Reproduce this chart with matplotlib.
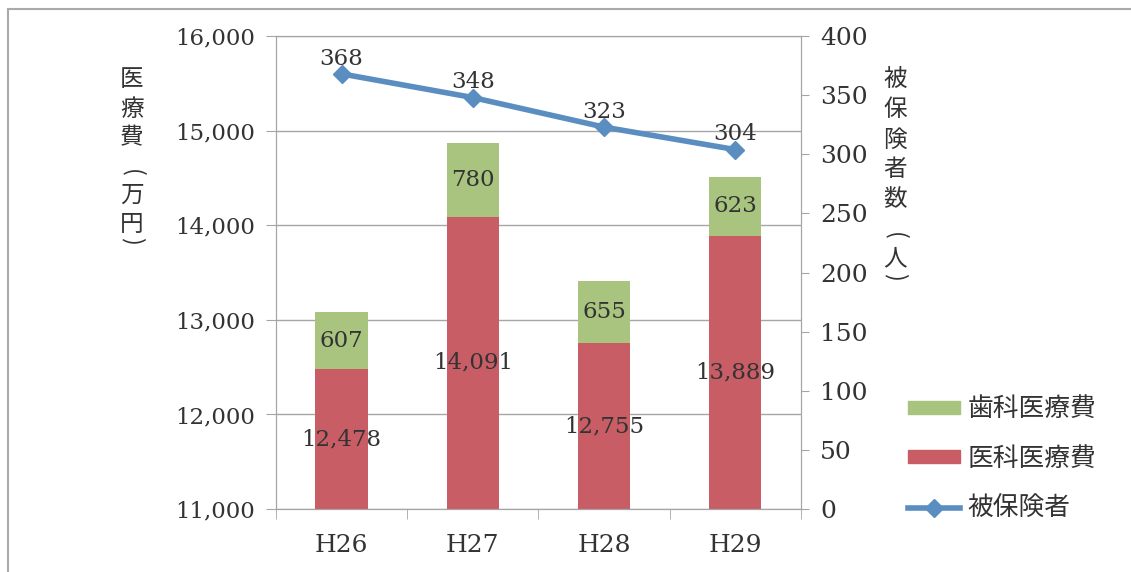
import numpy as np
import matplotlib.pyplot as plt
from matplotlib.lines import Line2D
from matplotlib.patches import Patch

years = ["H26", "H27", "H28", "H29"]
ika = [12478, 14091, 12755, 13889]      # 医科医療費
shika = [607, 780, 655, 623]            # 歯科医療費
hihokensha = [368, 348, 323, 304]       # 被保険者

GREEN = "#A9C47E"
RED = "#C95D66"
BLUE = "#5A8DC0"
TXT = "#333333"
SERIF = ["DejaVu Serif"]
JP = ["Noto Sans CJK JP", "DejaVu Sans"]


def vertical_label(fig, x_px, y_px, text, step=29):
    # 縦書き: 一文字ずつ配置、括弧は回転させる
    W = fig.get_figwidth() * fig.dpi
    H = fig.get_figheight() * fig.dpi
    prev = None
    for ch in text:
        if prev is not None:
            if ch == "(":
                y_px += step + 6
            elif prev == "(":
                y_px += step - 7
            elif ch == ")":
                y_px += step - 12
            else:
                y_px += step
        rot = -90 if ch in "()" else 0
        fig.text(x_px / W, 1 - y_px / H, ch, ha="center", va="center", rotation=rot,
                 fontsize=17, family=JP, color=TXT)
        prev = ch


fig = plt.figure(figsize=(11.31, 5.72), dpi=100)
ax = fig.add_axes([0.244, 0.110, 0.464, 0.827])

x = np.arange(len(years))
ax.bar(x, np.array(ika) - 11000, 0.4, bottom=11000, color=RED, zorder=2)
ax.bar(x, shika, 0.4, bottom=ika, color=GREEN, zorder=2)

for i in range(len(years)):
    ax.text(x[i], (11000 + ika[i]) / 2, f"{ika[i]:,}", ha="center", va="center",
            fontsize=16.5, family=SERIF, color=TXT, zorder=4)
    ax.text(x[i], ika[i] + shika[i] / 2, f"{shika[i]}", ha="center", va="center",
            fontsize=16.5, family=SERIF, color=TXT, zorder=4)

ax.set_xlim(-0.5, len(years) - 0.5)
ax.set_ylim(11000, 16000)
ax.set_yticks(np.arange(11000, 16001, 1000))
ax.set_yticklabels([f"{v:,}" for v in range(11000, 16001, 1000)], family=SERIF, fontsize=16.5, color=TXT)
ax.yaxis.grid(True, color="#a5a5a5", lw=1)
ax.set_axisbelow(True)
ax.set_xticks(x)
ax.set_xticklabels(years, family=SERIF, fontsize=18, color=TXT)
ax.set_xticks(np.arange(-0.5, len(years), 1), minor=True)
ax.tick_params(axis="x", which="major", length=0, pad=18)
ax.tick_params(axis="x", which="minor", length=7, color="#a5a5a5")
ax.tick_params(axis="y", length=7, color="#a5a5a5", pad=8)
for s in ax.spines.values():
    s.set_color("#a5a5a5")

ax2 = ax.twinx()
ax2.plot(x, hihokensha, color=BLUE, lw=4, marker="D", ms=9, zorder=5)
for i, v in enumerate(hihokensha):
    ax2.text(x[i], v + 13, str(v), ha="center", va="center", fontsize=16.5,
             family=SERIF, color=TXT, zorder=6)
ax2.set_ylim(0, 400)
ax2.set_yticks(np.arange(0, 401, 50))
ax2.set_yticklabels([str(v) for v in range(0, 401, 50)], family=SERIF, fontsize=18, color=TXT)
ax2.tick_params(axis="y", length=6, color="#a5a5a5", pad=8)
for s in ax2.spines.values():
    s.set_color("#a5a5a5")

vertical_label(fig, 132, 80, "医療費(万円)", step=29)
vertical_label(fig, 895, 80, "被保険者数(人)", step=30)

handles = [Patch(color=GREEN), Patch(color=RED),
           Line2D([], [], color=BLUE, lw=4, marker="D", ms=9)]
labels = ["歯科医療費", "医科医療費", "被保険者"]
leg = fig.legend(handles, labels, loc="upper left", bbox_to_anchor=(0.794, 0.325),
                 frameon=False, prop={"family": JP, "size": 18.5},
                 handlelength=2.0, handleheight=0.4, labelspacing=0.92, handletextpad=0.3,
                 borderaxespad=0)
for t in leg.get_texts():
    t.set_color(TXT)

# outer frame
fig.add_artist(Line2D([0.007, 0.007], [0.0, 0.984], color="#aaaaaa", lw=1.5))
fig.add_artist(Line2D([0.007, 1.0], [0.984, 0.984], color="#aaaaaa", lw=1.5))

fig.savefig("out.png", dpi=100)
